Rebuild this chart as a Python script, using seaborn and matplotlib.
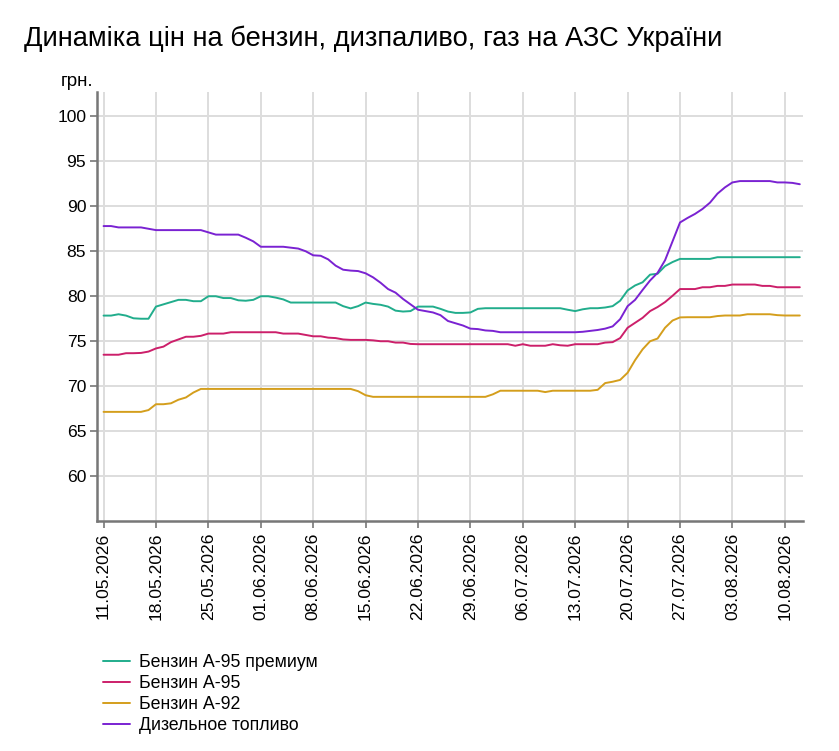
import pandas as pd
import matplotlib
matplotlib.use('Agg')
import matplotlib.pyplot as plt
import matplotlib.dates as mdates
import seaborn as sns

# дані: ціни по днях з 11.05.2026 по 12.08.2026
start_date = '2026-05-11'
n_days = 94

a95_premium = [77.85, 77.85, 78.0, 77.85, 77.55, 77.5, 77.5, 78.85, 79.1, 79.35,
               79.6, 79.6, 79.45, 79.45, 80.0, 80.0, 79.8, 79.8, 79.55, 79.5,
               79.6, 80.0, 80.0, 79.85, 79.65, 79.3, 79.3, 79.3, 79.3, 79.3,
               79.3, 79.3, 78.9, 78.65, 78.9, 79.3, 79.15, 79.05, 78.85, 78.4,
               78.3, 78.35, 78.85, 78.85, 78.85, 78.6, 78.3, 78.15, 78.15, 78.2,
               78.6, 78.67, 78.67, 78.67, 78.67, 78.67, 78.67, 78.67, 78.67, 78.67,
               78.67, 78.67, 78.5, 78.35, 78.55, 78.67, 78.67, 78.75, 78.9, 79.5,
               80.65, 81.2, 81.55, 82.4, 82.5, 83.35, 83.8, 84.15, 84.15, 84.15,
               84.15, 84.15, 84.34, 84.34, 84.34, 84.34, 84.34, 84.34, 84.34, 84.34,
               84.34, 84.34, 84.34, 84.34]

a95 = [73.5, 73.5, 73.5, 73.67, 73.67, 73.7, 73.85, 74.2, 74.4, 74.9,
       75.2, 75.5, 75.5, 75.6, 75.85, 75.85, 75.85, 76.0, 76.0, 76.0,
       76.0, 76.0, 76.0, 76.0, 75.85, 75.85, 75.85, 75.7, 75.55, 75.55,
       75.4, 75.35, 75.2, 75.15, 75.15, 75.15, 75.1, 75.0, 75.0, 74.85,
       74.85, 74.7, 74.67, 74.67, 74.67, 74.67, 74.67, 74.67, 74.67, 74.67,
       74.67, 74.67, 74.67, 74.67, 74.67, 74.5, 74.67, 74.5, 74.5, 74.5,
       74.67, 74.55, 74.5, 74.67, 74.67, 74.67, 74.67, 74.85, 74.9, 75.35,
       76.5, 77.05, 77.6, 78.35, 78.8, 79.35, 80.05, 80.8, 80.8, 80.8,
       81.0, 81.0, 81.15, 81.15, 81.3, 81.3, 81.3, 81.3, 81.15, 81.15,
       81.0, 81.0, 81.0, 81.0]

a92 = [67.15, 67.15, 67.15, 67.15, 67.15, 67.15, 67.35, 68.0, 68.0, 68.1,
       68.5, 68.75, 69.3, 69.7, 69.7, 69.7, 69.7, 69.7, 69.7, 69.7,
       69.7, 69.7, 69.7, 69.7, 69.7, 69.7, 69.7, 69.7, 69.7, 69.7,
       69.7, 69.7, 69.7, 69.7, 69.45, 69.0, 68.82, 68.82, 68.82, 68.82,
       68.82, 68.82, 68.82, 68.82, 68.82, 68.82, 68.82, 68.82, 68.82, 68.82,
       68.82, 68.82, 69.1, 69.5, 69.5, 69.5, 69.5, 69.5, 69.5, 69.35,
       69.5, 69.5, 69.5, 69.5, 69.5, 69.5, 69.6, 70.35, 70.5, 70.7,
       71.5, 72.9, 74.1, 75.0, 75.3, 76.5, 77.3, 77.65, 77.67, 77.67,
       77.67, 77.67, 77.8, 77.86, 77.86, 77.86, 78.0, 78.0, 78.0, 78.0,
       77.9, 77.86, 77.86, 77.86]

diesel = [87.8, 87.8, 87.65, 87.65, 87.65, 87.65, 87.5, 87.35, 87.35, 87.35,
          87.35, 87.35, 87.35, 87.35, 87.1, 86.85, 86.85, 86.85, 86.85, 86.5,
          86.1, 85.5, 85.5, 85.5, 85.5, 85.4, 85.3, 85.0, 84.55, 84.5,
          84.1, 83.4, 82.95, 82.85, 82.8, 82.55, 82.1, 81.5, 80.8, 80.4,
          79.7, 79.1, 78.5, 78.35, 78.2, 77.9, 77.25, 77.0, 76.75, 76.4,
          76.35, 76.2, 76.15, 76.0, 76.0, 76.0, 76.0, 76.0, 76.0, 76.0,
          76.0, 76.0, 76.0, 76.0, 76.05, 76.15, 76.25, 76.4, 76.65, 77.45,
          78.9, 79.6, 80.7, 81.75, 82.6, 84.0, 86.1, 88.2, 88.7, 89.15,
          89.7, 90.4, 91.4, 92.1, 92.65, 92.8, 92.8, 92.8, 92.8, 92.8,
          92.65, 92.65, 92.6, 92.45]

series_names = ['Бензин А-95 премиум', 'Бензин А-95', 'Бензин А-92', 'Дизельное топливо']
colors = ['#21ad8c', '#cc1f6a', '#d49e1c', '#7a22d2']

dates = pd.date_range(start_date, periods=n_days, freq='D')
df = pd.DataFrame({'date': dates,
                   series_names[0]: a95_premium,
                   series_names[1]: a95,
                   series_names[2]: a92,
                   series_names[3]: diesel})
long_df = df.melt(id_vars='date', var_name='fuel', value_name='price')

sns.set_style('white')
plt.rcParams['font.family'] = ['Liberation Sans', 'DejaVu Sans']
plt.rcParams['text.color'] = 'black'

fig = plt.figure(figsize=(8.39, 7.51), dpi=100)
ax = fig.add_axes([0.116, 0.306, 0.841, 0.5715])

sns.lineplot(data=long_df, x='date', y='price', hue='fuel', hue_order=series_names,
             palette=colors, linewidth=1.4, ax=ax, legend=False)

ax.set_ylim(55, 102.7)
ax.set_yticks(range(60, 101, 5))
ax.set_xlim(dates[0] - pd.Timedelta(hours=20), dates[-1] + pd.Timedelta(hours=10))
week_ticks = pd.date_range(start_date, '2026-08-10', freq='7D')
ax.set_xticks(week_ticks)
ax.xaxis.set_major_formatter(mdates.DateFormatter('%d.%m.%Y'))
ax.tick_params(axis='x', rotation=90)
ax.tick_params(axis='both', labelsize=12.6, length=5, width=1.2, color='#777777',
               labelcolor='black', direction='out', bottom=True, left=True, pad=3)

ax.grid(True, color='#dddddd', linewidth=1.4)
ax.set_axisbelow(True)
for side in ['top', 'right']:
    ax.spines[side].set_visible(False)
for side in ['left', 'bottom']:
    ax.spines[side].set_color('#777777')
    ax.spines[side].set_linewidth(1.8)
ax.set_xlabel('')
ax.set_ylabel('')

fig.text(0.111, 0.892, 'грн.', ha='right', va='center', fontsize=13.5)
fig.text(0.029, 0.949, 'Динаміка цін на бензин, дизпаливо, газ на АЗС України',
         ha='left', va='center', fontsize=19.6)

handles = [plt.Line2D([], [], color=c, linewidth=1.4) for c in colors]
fig.legend(handles, series_names, loc='upper left', bbox_to_anchor=(0.1228, 0.129),
           frameon=False, fontsize=12.8, handlelength=1.5, handletextpad=0.55,
           labelspacing=0.22, borderaxespad=0, borderpad=0)

fig.savefig('out.png', dpi=100)
